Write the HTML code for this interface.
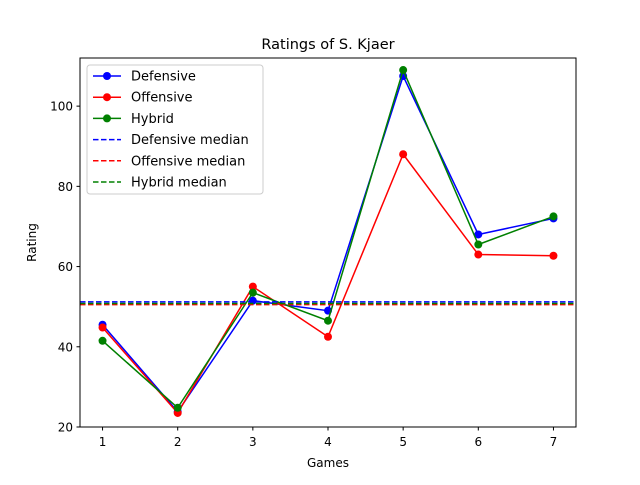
<!DOCTYPE html>
<html><head><meta charset="utf-8"><style>
body{margin:0;background:#fff;font-family:"Liberation Sans","DejaVu Sans",sans-serif;}
svg text{font-family:"DejaVu Sans","Liberation Sans",sans-serif;}
</style></head><body>
<svg id="chart" width="640" height="480" xmlns="http://www.w3.org/2000/svg"></svg>
<script>
const games=[1,2,3,4,5,6,7];
const defensive=[45.5,23.8,51.5,49,107.5,68,72];
const offensive=[44.8,23.5,55,42.5,88,63,62.7];
const hybrid=[41.5,24.8,53.5,46.5,109,65.5,72.5];
const medians=[51.2,50.5,50.8];
const yTicks=[20,40,60,80,100];
const L=80,R=576,T=58,B=427,X0=0.7,X1=7.3,Y0=20,Y1=112;
const sx=v=>L+(v-X0)/(X1-X0)*(R-L);
const sy=v=>B-(v-Y0)/(Y1-Y0)*(B-T);
const svg=document.getElementById('chart');
const NS='http://www.w3.org/2000/svg';
function mk(t,a,p){const e=document.createElementNS(NS,t);for(const k in a)e.setAttribute(k,a[k]);(p||svg).appendChild(e);return e;}
let e;
e=mk('rect',{x:0,y:0,width:640,height:480,fill:'#fff'});


e=mk('text',{x:328,y:49,'font-size':14.5,'text-anchor':'middle'});e.textContent='Ratings of S. Kjaer';


games.forEach(g=>{const x=sx(g);mk('line',{x1:x,x2:x,y1:B,y2:B+3.5,stroke:'#000'});
 e=mk('text',{x:x,y:B+19,'font-size':12,'text-anchor':'middle'});e.textContent=g;
 
 });
yTicks.forEach(v=>{const y=sy(v);mk('line',{x1:L-3.5,x2:L,y1:y,y2:y,stroke:'#000'});
 e=mk('text',{x:L-7,y:y+4.5,'font-size':12,'text-anchor':'end'});e.textContent=v;
 
 });
e=mk('text',{x:328,y:467,'font-size':12,'text-anchor':'middle'});e.textContent='Games';


e=mk('text',{x:0,y:0,'font-size':12,'text-anchor':'middle',transform:`translate(36,${(T+B)/2}) rotate(-90)`});e.textContent='Rating';


const cols=['#0000ff','#ff0000','#008000'];
[defensive,offensive,hybrid].forEach((s,i)=>{
 e=mk('polyline',{points:s.map((v,j)=>sx(games[j])+','+sy(v)).join(' '),fill:'none',stroke:cols[i],'stroke-width':1.5});
 
 
 s.forEach((v,j)=>{e=mk('circle',{cx:sx(games[j]),cy:sy(v),r:4,fill:cols[i]});
 
 });
});
medians.forEach((m,i)=>{e=mk('line',{x1:L,x2:R,y1:sy(m),y2:sy(m),stroke:cols[i],'stroke-width':1.5,'stroke-dasharray':'5.5,2.5'});
 
 });
e=mk('rect',{x:L,y:T,width:R-L,height:B-T,fill:'none',stroke:'#000','stroke-width':1});


const lg=mk('g',{});


mk('rect',{x:87,y:65,width:176,height:129,rx:3,fill:'#fff',stroke:'#ccc','fill-opacity':0.8},lg);
const names=['Defensive','Offensive','Hybrid','Defensive median','Offensive median','Hybrid median'];
names.forEach((n,i)=>{const y=76+i*21.2,c=cols[i%3];
 if(i<3){mk('line',{x1:93,x2:121,y1:y,y2:y,stroke:c,'stroke-width':1.5},lg);mk('circle',{cx:107,cy:y,r:4,fill:c},lg);}
 else mk('line',{x1:93,x2:121,y1:y,y2:y,stroke:c,'stroke-width':1.5,'stroke-dasharray':'5.5,2.5'},lg);
 e=mk('text',{x:131,y:y+4.5,'font-size':13},lg);e.textContent=n;
 
 });
</script>
</body></html>
